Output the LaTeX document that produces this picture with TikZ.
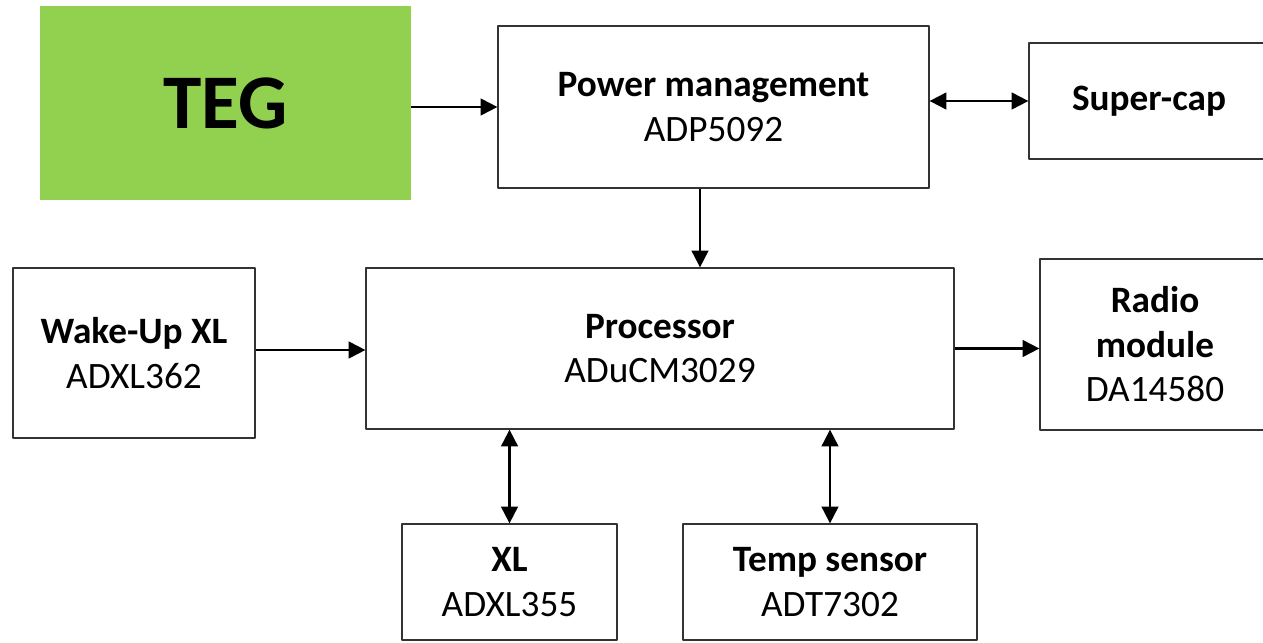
\documentclass[tikz,border=0pt]{standalone}
\usepackage{fontspec}
\setmainfont{Carlito}
\usetikzlibrary{arrows.meta}
\definecolor{teggreen}{RGB}{146,208,80}
\newcommand{\blk}[2]{\textbf{#1}\\#2}
\begin{document}
\begin{tikzpicture}[x=0.02cm, y=-0.02cm, line join=round,
  box/.style={draw=black!80, line width=0.75pt, inner sep=0pt, align=center,
    font=\fontsize{21.2}{25.3}\selectfont},
  link/.style={line width=1.15pt, -{Triangle[length=9.5pt,width=9.5pt]}},
  dlink/.style={link, {Triangle[length=9.5pt,width=9.5pt]}-{Triangle[length=9.5pt,width=9.5pt]}}]
  \useasboundingbox (0,0) rectangle (1263,642);
  % top row
  \node[fill=teggreen, minimum width=7.42cm, minimum height=3.88cm,
    font=\fontsize{44}{50}\selectfont\bfseries] (teg) at (225.5,103) {TEG};
  \node[box, minimum width=8.62cm, minimum height=3.24cm] (pm) at (713.5,107)
    {\blk{Power management}{ADP5092}};
  \node[box, minimum width=4.8cm, minimum height=2.32cm] (cap) at (1149,101)
    {\textbf{Super-cap}};
  % middle row
  \node[box, minimum width=4.84cm, minimum height=3.4cm] (wake) at (134,353)
    {\blk{Wake-Up XL}{ADXL362}};
  \node[box, minimum width=11.76cm, minimum height=3.22cm] (cpu) at (660,348.5)
    {\blk{Processor}{ADuCM3029}};
  \node[box, minimum width=4.6cm, minimum height=3.42cm] (radio) at (1155,344.5)
    {\textbf{Radio}\\\textbf{module}\\DA14580};
  % bottom row
  \node[box, minimum width=4.3cm, minimum height=2.32cm] (xl) at (509.5,582)
    {\blk{XL}{ADXL355}};
  \node[box, minimum width=5.88cm, minimum height=2.32cm] (temp) at (830,582)
    {\blk{Temp sensor}{ADT7302}};
  % connectors
  \draw[link] (teg.east |- pm.west) -- (pm.west);
  \draw[dlink] (pm.east |- cap.west) -- (cap.west);
  \draw[link] ([xshift=-0.27cm]pm.south) -- ([xshift=-0.27cm]pm.south |- cpu.north);
  \draw[link] ([yshift=-0.03cm]cpu.west -| wake.east) -- ([yshift=-0.03cm]cpu.west);
  \draw[link] (cpu.east) -- (cpu.east -| radio.west);
  \draw[dlink] (xl.north) -- (xl.north |- cpu.south);
  \draw[dlink] (temp.north) -- (temp.north |- cpu.south);
\end{tikzpicture}
\end{document}
